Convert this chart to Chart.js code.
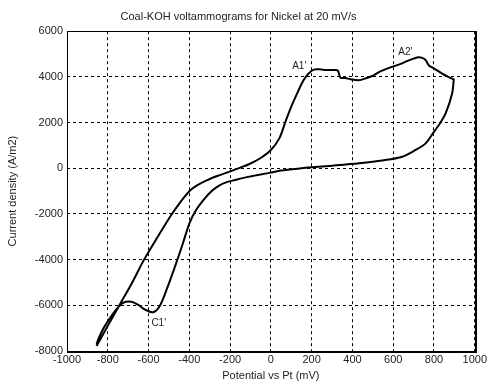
<!DOCTYPE html>
<html>
<head>
<meta charset="utf-8">
<script src="https://cdn.jsdelivr.net/npm/chart.js@4/dist/chart.umd.min.js"></script>
<style>
  html, body { margin: 0; padding: 0; background: #fff; }
  #wrap { width: 489px; height: 385px; }
</style>
</head>
<body>
<div id="wrap"><canvas id="myChart" width="489" height="385"></canvas></div>
<script>
// anodic sweep (-850 mV -> 900 mV)
const fwdPotential = [-855, -800, -740, -680, -622, -555, -488, -452, -422, -395, -360, -315, -260, -203, -150, -105, -50, 0, 42, 74, 100, 130, 160, 185, 210, 240, 270, 310, 328, 335, 342, 365, 390, 430, 470, 500, 530, 570, 605, 640, 670, 700, 725, 745, 760, 775, 800, 840, 870, 897];
const fwdCurrent   = [-7780, -6900, -5950, -5000, -4000, -3000, -2036, -1580, -1230, -960, -740, -530, -330, -148, 30, 187, 450, 800, 1320, 2100, 2700, 3300, 3850, 4150, 4320, 4330, 4300, 4300, 4280, 4100, 3960, 3950, 3900, 3850, 3950, 4050, 4210, 4360, 4470, 4580, 4700, 4800, 4860, 4820, 4720, 4500, 4370, 4140, 4000, 3890];
// cathodic sweep (900 mV -> -850 mV)
const revPotential = [897, 889, 857, 824, 800, 759, 710, 645, 547, 433, 302, 200, 150, 50, 0, -105, -170, -220, -258, -290, -325, -366, -399, -431, -464, -505, -545, -578, -619, -650, -684, -725, -765, -814, -847, -855];
const revCurrent   = [3890, 3270, 2400, 1890, 1596, 1090, 800, 506, 340, 218, 113, 40, 0, -100, -192, -366, -500, -620, -780, -1000, -1330, -1818, -2398, -3270, -4142, -5160, -6030, -6300, -6180, -5980, -5840, -5890, -6250, -6900, -7490, -7720];
// peak labels
const peakNames = ["A1'", "A2'", "C1'"];
const peakX = [139, 660, -550];
const peakY = [4480, 5060, -6780];

const points = [];
fwdPotential.forEach((p, i) => points.push({ x: p, y: fwdCurrent[i] }));
revPotential.forEach((p, i) => points.push({ x: p, y: revCurrent[i] }));

const FONT = 'Liberation Sans, Arial, sans-serif';

const extras = {
  id: 'extras',
  afterDatasetsDraw(chart) {
    const ctx = chart.ctx;
    const a = chart.chartArea;
    const xs = chart.scales.x, ys = chart.scales.y;
    ctx.save();
    ctx.fillStyle = '#222';
    ctx.font = '10px ' + FONT;
    ctx.textAlign = 'center';
    ctx.textBaseline = 'middle';
    peakNames.forEach((n, i) => {
      ctx.fillText(n, xs.getPixelForValue(peakX[i]), ys.getPixelForValue(peakY[i]));
    });
    ctx.strokeStyle = '#000';
    ctx.lineWidth = 1;
    ctx.strokeRect(Math.round(a.left) + 0.5, Math.round(a.top) + 0.5,
      Math.round(a.right - a.left), Math.round(a.bottom - a.top));
    ctx.lineWidth = 2;
    ctx.beginPath();
    ctx.moveTo(Math.round(a.left), Math.round(a.bottom) + 1);
    ctx.lineTo(Math.round(a.right) + 1, Math.round(a.bottom) + 1);
    ctx.lineTo(Math.round(a.right) + 1, Math.round(a.top));
    ctx.stroke();
    ctx.restore();
  }
};

const ctx = document.getElementById('myChart').getContext('2d');
const myChart = new Chart(ctx, {
  type: 'scatter',
  data: {
    datasets: [{
      label: 'Nickel 20 mV/s',
      data: points,
      showLine: true,
      borderColor: '#000',
      borderWidth: 2,
      pointRadius: 0,
      tension: 0.3,
      fill: false
    }]
  },
  options: {
    responsive: false,
    animation: false,
    devicePixelRatio: 1,
    layout: { padding: { left: 0, right: 12, top: 0, bottom: 0 } },
    plugins: {
      legend: { display: false },
      tooltip: { enabled: false },
      title: {
        display: true,
        text: 'Coal-KOH voltammograms for Nickel at 20 mV/s',
        color: '#222',
        font: { family: FONT, size: 11, weight: 'normal' },
        padding: { top: 10, bottom: 8 }
      }
    },
    scales: {
      x: {
        type: 'linear',
        min: -1000, max: 1000,
        ticks: { stepSize: 200, color: '#222', font: { family: FONT, size: 11 }, padding: 2, maxRotation: 0, autoSkip: false,
          callback: v => String(v) },
        grid: { color: '#000', lineWidth: 1, drawTicks: false },
        border: { display: false, dash: [3, 3] },
        title: { display: true, text: 'Potential vs Pt (mV)', color: '#222', font: { family: FONT, size: 11 }, padding: { top: 1, bottom: 2 } },
        afterFit(s) { s.height = 34; }
      },
      y: {
        type: 'linear',
        min: -8000, max: 6000,
        ticks: { stepSize: 2000, color: '#222', font: { family: FONT, size: 11 }, padding: 4,
          callback: v => String(v) },
        grid: { color: '#000', lineWidth: 1, drawTicks: false },
        border: { display: false, dash: [3, 3] },
        title: { display: true, text: 'Current density (A/m2)', color: '#222', font: { family: FONT, size: 11 }, padding: { top: 6, bottom: 0 } },
        afterFit(s) { s.width = 67; }
      }
    }
  },
  plugins: [extras]
});
</script>
</body>
</html>
